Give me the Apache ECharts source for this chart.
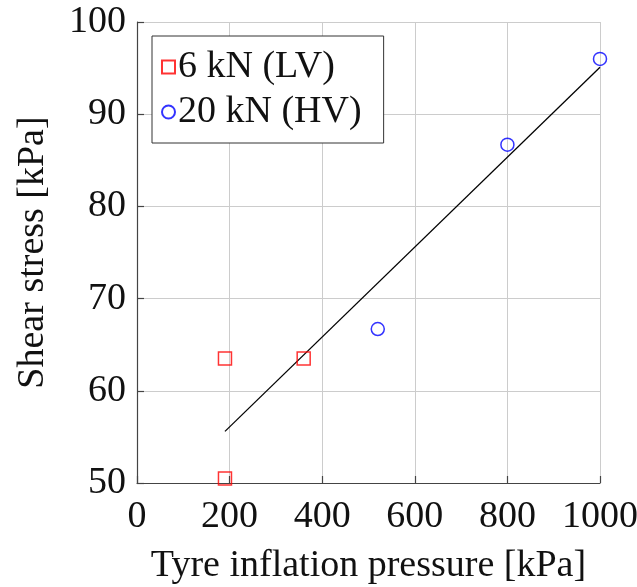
<!DOCTYPE html>
<html><head><meta charset="utf-8">
<script src="https://cdn.jsdelivr.net/npm/echarts@6/dist/echarts.min.js"></script>
<style>html,body{margin:0;padding:0;background:#fff}#c{width:637px;height:587px}</style>
</head><body><div id="c"></div>
<script>
const lvData = [[190, 63.5], [190, 50.5], [360, 63.5]];
const hvData = [[520, 66.7], [800, 86.7], [1000, 96.0]];
const fitLine = [[190, 55.6], [1000, 95.1]];
const xTicks = [0, 200, 400, 600, 800, 1000];
const yTicks = [50, 60, 70, 80, 90, 100];
const seriesNames = ['6 kN (LV)', '20 kN (HV)'];

const FONT = 'Liberation Serif';
const FS = 38;
const chart = echarts.init(document.getElementById('c'), null, {renderer: 'canvas'});
chart.setOption({
  animation: false,
  backgroundColor: '#fff',
  textStyle: {fontFamily: FONT},
  grid: {left: 137, right: 37, top: 22, bottom: 104, containLabel: false, outerBoundsMode: 'none'},
  legend: {
    data: seriesNames.map(n => ({name: n})),
    orient: 'vertical',
    left: 152, top: 36,
    backgroundColor: '#fff',
    borderColor: '#333',
    borderWidth: 1,
    borderRadius: 0,
    padding: [11, 22, 11, 9],
    itemGap: 5,
    itemWidth: 13, itemHeight: 13,
    textStyle: {fontFamily: FONT, fontSize: FS, lineHeight: 40, color: '#111', padding: [0,0,0,-2]},
    selectedMode: false
  },
  xAxis: {
    type: 'value', min: xTicks[0], max: xTicks[xTicks.length-1], interval: 200,
    name: 'Tyre inflation pressure [kPa]', nameLocation: 'middle', nameGap: 64,
    nameTextStyle: {fontFamily: FONT, fontSize: FS, color: '#111'},
    axisLine: {show: true, onZero: false, lineStyle: {color: '#444', width: 1.2}},
    axisTick: {show: true, inside: true, length: 7, lineStyle: {color: '#444', width: 1.2}},
    axisLabel: {fontFamily: FONT, fontSize: FS, color: '#111', margin: 15, formatter: v => String(v)},
    splitLine: {show: true, lineStyle: {color: '#cccccc', width: 1}}
  },
  yAxis: {
    type: 'value', min: yTicks[0], max: yTicks[yTicks.length-1], interval: 10,
    name: 'Shear stress [kPa]', nameLocation: 'middle', nameGap: 85,
    nameTextStyle: {fontFamily: FONT, fontSize: FS, color: '#111'},
    axisLine: {show: true, onZero: false, lineStyle: {color: '#444', width: 1.2}},
    axisTick: {show: true, inside: true, length: 7, lineStyle: {color: '#444', width: 1.2}},
    axisLabel: {fontFamily: FONT, fontSize: FS, color: '#111', margin: 11, formatter: v => String(v)},
    splitLine: {show: true, lineStyle: {color: '#cccccc', width: 1}}
  },
  series: [
    {
      name: 'fit', type: 'line', data: fitLine, showSymbol: false, symbol: 'none',
      lineStyle: {color: '#000', width: 1.3}, z: 3
    },
    {
      name: seriesNames[0], type: 'scatter', data: lvData,
      symbol: 'rect', symbolSize: 13,
      itemStyle: {color: 'rgba(0,0,0,0)', borderColor: '#ff0000', borderWidth: 1.5}, z: 4
    },
    {
      name: seriesNames[1], type: 'scatter', data: hvData,
      symbol: 'circle', symbolSize: 13,
      itemStyle: {color: 'rgba(0,0,0,0)', borderColor: '#0000ff', borderWidth: 1.5}, z: 4
    }
  ]
});
</script></body></html>
